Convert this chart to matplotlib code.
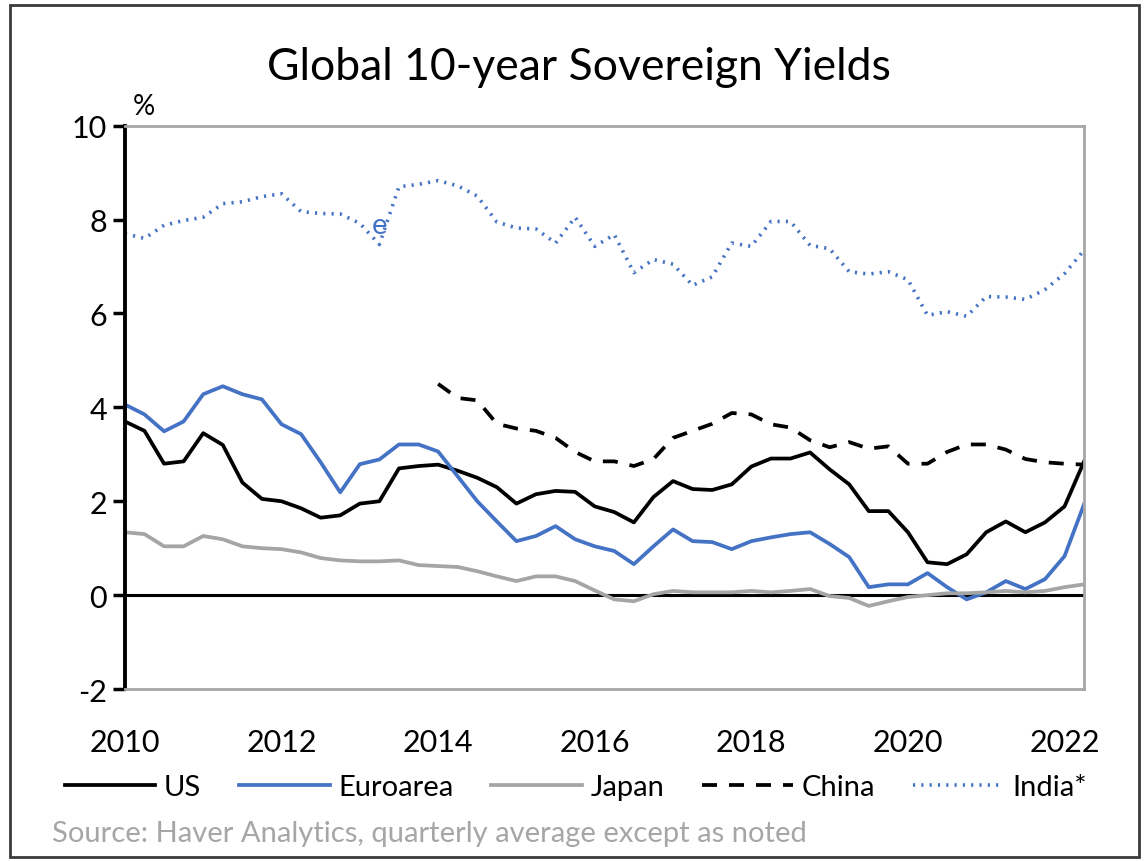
import matplotlib
matplotlib.use("Agg")

import matplotlib.pyplot as plt
import numpy as np
from matplotlib.patches import Rectangle

# quarterly, 2010Q1 .. 2022Q2
start_year = 2010
n_quarters = 50

us = [3.70, 3.50, 2.80, 2.85, 3.45, 3.20, 2.40, 2.05, 2.00, 1.85,
      1.65, 1.70, 1.95, 2.00, 2.70, 2.75, 2.78, 2.65, 2.50, 2.30,
      1.95, 2.15, 2.22, 2.20, 1.89, 1.77, 1.55, 2.09, 2.43, 2.26,
      2.24, 2.36, 2.74, 2.91, 2.91, 3.04, 2.68, 2.36, 1.79, 1.79,
      1.34, 0.70, 0.66, 0.87, 1.34, 1.57, 1.34, 1.55, 1.89, 2.85]

euroarea = [4.06, 3.85, 3.49, 3.70, 4.28, 4.45, 4.28, 4.17, 3.64, 3.43,
            2.83, 2.19, 2.79, 2.89, 3.21, 3.21, 3.06, 2.53, 2.00, 1.57,
            1.15, 1.26, 1.47, 1.19, 1.04, 0.94, 0.66, 1.04, 1.40, 1.15,
            1.13, 0.98, 1.15, 1.23, 1.30, 1.34, 1.09, 0.81, 0.17, 0.23,
            0.23, 0.47, 0.17, -0.09, 0.06, 0.30, 0.13, 0.34, 0.83, 1.94]

japan = [1.34, 1.30, 1.04, 1.04, 1.26, 1.19, 1.04, 1.00, 0.98, 0.91,
         0.79, 0.74, 0.72, 0.72, 0.74, 0.64, 0.62, 0.60, 0.51, 0.40,
         0.30, 0.40, 0.40, 0.30, 0.10, -0.09, -0.13, 0.02, 0.09, 0.06,
         0.06, 0.06, 0.09, 0.06, 0.09, 0.13, -0.02, -0.06, -0.23, -0.13,
         -0.04, 0.00, 0.04, 0.04, 0.06, 0.09, 0.06, 0.09, 0.17, 0.23]

# China series starts in 2014Q1
china_start = 16
china = [4.50, 4.20, 4.15, 3.65, 3.55, 3.50, 3.35, 3.05, 2.85, 2.85,
         2.75, 2.90, 3.35, 3.50, 3.65, 3.88, 3.85, 3.64, 3.57, 3.30,
         3.15, 3.26, 3.12, 3.17, 2.80, 2.80, 3.05, 3.21, 3.21, 3.10,
         2.90, 2.83, 2.80, 2.78]

india = [7.70, 7.60, 7.88, 7.98, 8.05, 8.34, 8.38, 8.49, 8.55, 8.17,
         8.13, 8.12, 7.92, 7.47, 8.70, 8.75, 8.83, 8.72, 8.50, 7.95,
         7.82, 7.80, 7.50, 8.05, 7.43, 7.68, 6.87, 7.15, 7.05, 6.60,
         6.78, 7.50, 7.43, 7.96, 7.96, 7.45, 7.38, 6.89, 6.84, 6.89,
         6.72, 5.96, 6.04, 5.94, 6.36, 6.35, 6.30, 6.51, 6.85, 7.35]

year_ticks = [2010, 2012, 2014, 2016, 2018, 2020, 2022]
y_ticks = [-2, 0, 2, 4, 6, 8, 10]

x = start_year + np.arange(n_quarters) / 4
x_china = x[china_start:china_start + len(china)]

plt.rcParams["font.family"] = ["Lato", "DejaVu Sans"]
plt.rcParams["axes.unicode_minus"] = False

fig = plt.figure(figsize=(11.46, 8.62), dpi=100)
ax = fig.add_axes([0.109, 0.1995, 0.837, 0.6535])

blue = "#4472C4"
gray = "#A5A5A5"

ax.plot(x, us, color="black", lw=2.7, label="US")
ax.plot(x, euroarea, color=blue, lw=2.7, label="Euroarea")
ax.plot(x, japan, color=gray, lw=2.7, label="Japan")
ax.plot(x_china, china, color="black", lw=2.7, dashes=(4, 3.2), label="China")
ax.plot(x, india, color=blue, lw=2.6, linestyle=(0, (0.6, 1.7)),
        dash_capstyle="butt", label="India*")

ax.axhline(0, color="black", lw=2.2, zorder=1)
ax.text(2013.25, 7.89, "e", color=blue, fontsize=21, ha="center",
        va="center")

ax.set_xlim(start_year, start_year + (n_quarters - 1) / 4)
ax.set_ylim(-2, 10)
ax.set_xticks(year_ticks)
ax.set_xticklabels([str(y) for y in year_ticks])
ax.set_yticks(y_ticks)
ax.tick_params(axis="x", length=0, pad=28, labelsize=22)
ax.tick_params(axis="y", length=9, width=2.5, color="black", pad=4,
               labelsize=22)

for side in ["top", "right", "bottom"]:
    ax.spines[side].set_color("#A6A6A6")
    ax.spines[side].set_linewidth(2)
ax.spines["left"].set_color("black")
ax.spines["left"].set_linewidth(2.8)

ax.text(0.008, 1.012, "%", transform=ax.transAxes, fontsize=20,
        ha="left", va="bottom")

fig.text(0.505, 0.922, "Global 10-year Sovereign Yields", ha="center",
         va="center", fontsize=32)

leg = ax.legend(loc="upper center", bbox_to_anchor=(0.47, -0.105), ncol=5,
                frameon=False, fontsize=21, handlelength=3.1,
                columnspacing=1.3, handletextpad=0.3)

fig.text(0.045, 0.033, "Source: Haver Analytics, quarterly average except as noted",
         color="#A6A6A6", fontsize=21, ha="left", va="center")

fig.patches.append(Rectangle((0.009, 0.005), 0.985, 0.988,
                             transform=fig.transFigure, fill=False,
                             edgecolor="#3A3A3A", lw=2))

fig.savefig("out.png", dpi=100, facecolor="white")
